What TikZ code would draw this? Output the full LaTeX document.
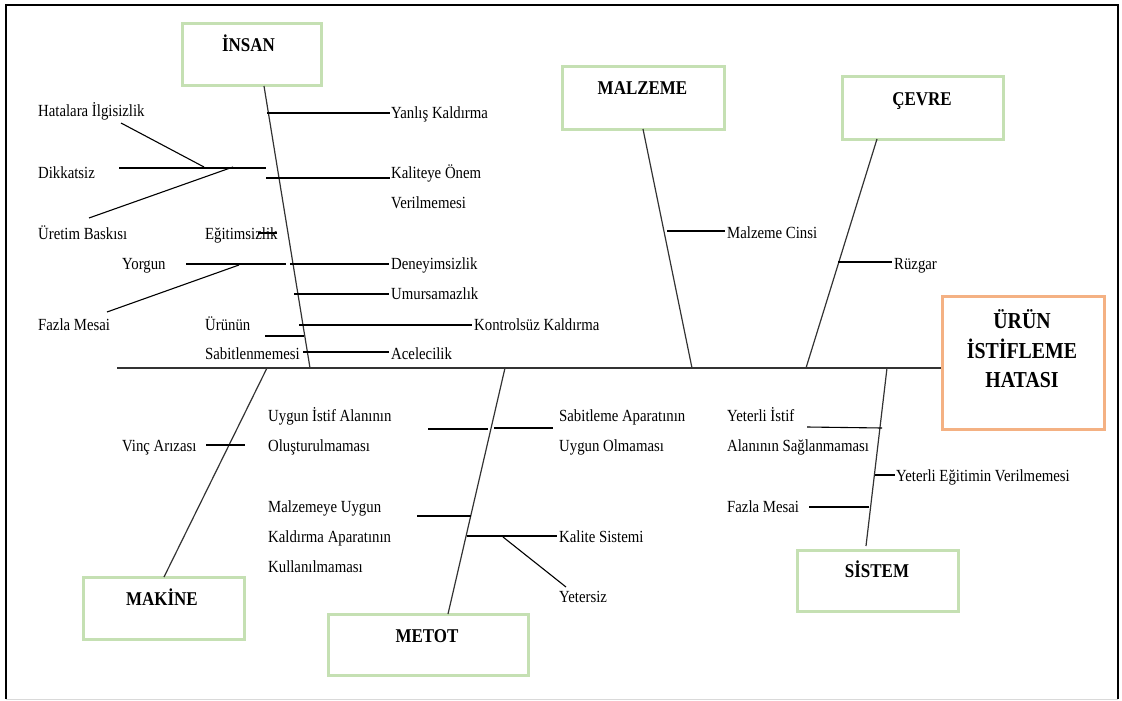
\documentclass[tikz,border=0pt]{standalone}
\usepackage{fontspec}
\setmainfont{Liberation Serif}[FakeStretch=0.87]
\definecolor{boxgreen}{HTML}{C5E0B3}
\definecolor{boxorange}{HTML}{F4B183}
\tikzset{
  bone/.style={draw=black!80, line width=1.2pt},
  twig/.style={draw=black, line width=1.1pt},
  catbox/.style={draw=boxgreen, line width=3pt, inner sep=0pt},
  headbox/.style={draw=boxorange, line width=3pt, inner sep=0pt},
  lbl/.style={inner sep=0pt, anchor=base west, font=\fontsize{17}{17}\selectfont},
  head/.style={inner sep=0pt, anchor=base, font=\fontsize{19.5}{20}\selectfont\bfseries},
  bighead/.style={inner sep=0pt, anchor=base, font=\fontsize{22.8}{23}\selectfont\bfseries},
}
\begin{document}
\begin{tikzpicture}[x=1pt, y=-1pt]
\useasboundingbox (0,0) rectangle (1122,701);

% outer frame
\draw[line width=2.5pt] (6,699) -- (6,5) -- (1118,5) -- (1118,699);
\draw[line width=1pt, black!15] (6,699.5) -- (1118,699.5);

% effect box
\node[headbox, minimum width=162pt, minimum height=133pt] (effect) at (1023,362.5) {};
\node[bighead] (t1) at (1022,328) {ÜRÜN};
\node[bighead] (t2) at (1022,358) {İSTİFLEME};
\node[bighead] (t3) at (1022,387) {HATASI};

% category boxes
\node[catbox, minimum width=139pt, minimum height=62pt] (insan) at (251.5,55) {};
\node[head] (insanT) at (248.5,52) {İNSAN};
\node[catbox, minimum width=162pt, minimum height=62pt] (malzeme) at (643,98) {};
\node[head] (malzemeT) at (642.5,95) {MALZEME};
\node[catbox, minimum width=161pt, minimum height=62pt] (cevre) at (922.5,108) {};
\node[head] (cevreT) at (922,105) {ÇEVRE};
\node[catbox, minimum width=161pt, minimum height=62pt] (makine) at (163.5,608) {};
\node[head] (makineT) at (162,605) {MAKİNE};
\node[catbox, minimum width=200pt, minimum height=61pt] (metot) at (428,644.5) {};
\node[head] (metotT) at (427,642) {METOT};
\node[catbox, minimum width=161pt, minimum height=61pt] (sistem) at (877.5,580.5) {};
\node[head] (sistemT) at (877,577) {SİSTEM};

% spine
\coordinate (tail) at (117,368);
\coordinate (spineEnd) at (effect.west |- tail);
\draw[bone] (tail) -- (spineEnd);

% main bones
\coordinate (bIns) at (264,86);   \coordinate (sIns) at (310,368);
\coordinate (bMal) at (643,129);  \coordinate (sMal) at (692,368);
\coordinate (bCev) at (877,139);  \coordinate (sCev) at (806,368);
\coordinate (bMak) at (164,577);  \coordinate (sMak) at (267,368);
\coordinate (bMet) at (448,614);  \coordinate (sMet) at (505,368);
\coordinate (bSis) at (866,546);  \coordinate (sSis) at (887,368);
\draw[bone] (bIns) -- (sIns);
\draw[bone] (bMal) -- (sMal);
\draw[bone] (bCev) -- (sCev);
\draw[bone] (bMak) -- (sMak);
\draw[bone] (bMet) -- (sMet);
\draw[bone] (bSis) -- (sSis);

% İNSAN causes
\draw[twig] (267,113) -- (390,113);
\draw[twig] (119,168) -- (266,168);
\draw[twig] (121,123) -- (204,167);
\draw[twig] (89,218) -- (233,167);
\draw[twig] (266,178) -- (390,178);
\draw[twig] (258,233) -- (277,233);
\draw[twig] (186,264) -- (286,264);
\draw[twig] (290,264) -- (389,264);
\draw[twig] (107,312) -- (239,265);
\draw[twig] (294,294) -- (389,294);
\draw[twig] (299,325) -- (472,325);
\draw[twig] (265,336) -- (304,336);
\draw[twig] (303,352) -- (389,352);

\node[lbl] (l1) at (38,117) {Hatalara İlgisizlik};
\node[lbl] (l2) at (38,178) {Dikkatsiz};
\node[lbl] (l3) at (38,239) {Üretim Baskısı};
\node[lbl] (l4) at (205,239) {Eğitimsizlik};
\node[lbl] (l5) at (391,118) {Yanlış Kaldırma};
\node[lbl] (l6) at (391,178) {Kaliteye Önem};
\node[lbl] (l7) at (391,208) {Verilmemesi};
\node[lbl] (l8) at (122,269) {Yorgun};
\node[lbl] (l9) at (391,269) {Deneyimsizlik};
\node[lbl] (l10) at (391,299) {Umursamazlık};
\node[lbl] (l11) at (38,330) {Fazla Mesai};
\node[lbl] (l12) at (205,330) {Ürünün};
\node[lbl] (l13) at (474,330) {Kontrolsüz Kaldırma};
\node[lbl] (l14) at (205,359) {Sabitlenmemesi};
\node[lbl] (l15) at (391,359) {Acelecilik};

% MALZEME and ÇEVRE causes
\draw[twig] (667,231) -- (725,231);
\draw[twig] (838,262) -- (892,262);
\node[lbl] (m1) at (727,238) {Malzeme Cinsi};
\node[lbl] (c1) at (894,269) {Rüzgar};

% MAKİNE cause
\draw[twig] (206,445) -- (245,445);
\node[lbl] (k1) at (122,451) {Vinç Arızası};

% METOT causes
\draw[twig] (428,429) -- (488,429);
\draw[twig] (494,428) -- (553,428);
\draw[twig] (417,516) -- (471,516);
\draw[twig] (467,536) -- (557,536);
\draw[twig] (503,537) -- (566,587);
\node[lbl] (e1) at (268,421) {Uygun İstif Alanının};
\node[lbl] (e2) at (268,451) {Oluşturulmaması};
\node[lbl] (e3) at (268,512) {Malzemeye Uygun};
\node[lbl] (e4) at (268,542) {Kaldırma Aparatının};
\node[lbl] (e5) at (268,572) {Kullanılmaması};
\node[lbl] (e6) at (559,421) {Sabitleme Aparatının};
\node[lbl] (e7) at (559,451) {Uygun Olmaması};
\node[lbl] (e8) at (559,542) {Kalite Sistemi};
\node[lbl] (e9) at (559,602) {Yetersiz};

% SİSTEM causes
\draw[twig] (807,427) -- (882,428);
\draw[twig] (875,475) -- (895,475);
\draw[twig] (809,507) -- (869,507);
\node[lbl] (s1) at (727,421) {Yeterli İstif};
\node[lbl] (s2) at (727,451) {Alanının Sağlanmaması};
\node[lbl] (s3) at (896,481) {Yeterli Eğitimin Verilmemesi};
\node[lbl] (s4) at (727,512) {Fazla Mesai};
\end{tikzpicture}
\end{document}
